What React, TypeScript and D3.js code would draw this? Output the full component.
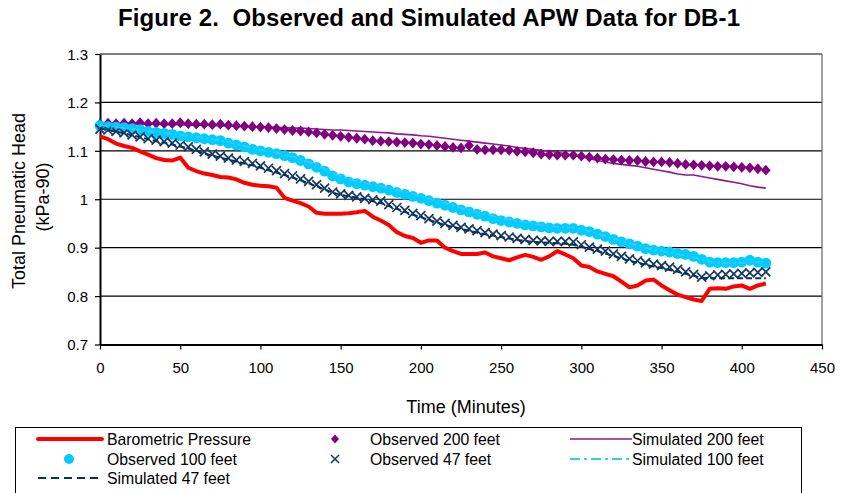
import React, { useEffect, useRef } from 'react';
import * as d3 from 'd3';

// sample times (minutes)
const minutes = [
  0, 5, 10, 15, 20, 25, 30, 35, 40, 45, 50, 55, 60, 65, 70, 75, 80, 85, 90, 95,
  100, 105, 110, 115, 120, 125, 130, 135, 140, 145, 150, 155, 160, 165, 170, 175, 180, 185, 190, 195,
  200, 205, 210, 215, 220, 225, 230, 235, 240, 245, 250, 255, 260, 265, 270, 275, 280, 285, 290, 295,
  300, 305, 310, 315, 320, 325, 330, 335, 340, 345, 350, 355, 360, 365, 370, 375, 380, 385, 390, 395,
  400, 405, 410, 415,
];

const barometric = [
  1.130, 1.124, 1.115, 1.110, 1.106, 1.099, 1.092, 1.085, 1.081, 1.080, 1.086, 1.065, 1.058, 1.053, 1.050, 1.046, 1.045, 1.041, 1.034, 1.030,
  1.028, 1.027, 1.024, 1.003, 0.997, 0.992, 0.985, 0.972, 0.970, 0.970, 0.970, 0.971, 0.973, 0.976, 0.964, 0.956, 0.947, 0.932, 0.924, 0.920,
  0.910, 0.915, 0.915, 0.900, 0.893, 0.887, 0.887, 0.887, 0.890, 0.882, 0.878, 0.874, 0.880, 0.885, 0.881, 0.875, 0.882, 0.893, 0.886, 0.878,
  0.863, 0.860, 0.851, 0.846, 0.841, 0.830, 0.818, 0.822, 0.832, 0.834, 0.822, 0.812, 0.803, 0.798, 0.793, 0.790, 0.815, 0.816, 0.815, 0.820,
  0.822, 0.815, 0.822, 0.826,
];

const observed200 = [
  1.155, 1.157, 1.156, 1.157, 1.156, 1.158, 1.156, 1.157, 1.156, 1.156, 1.158, 1.156, 1.155, 1.155, 1.154, 1.155, 1.153, 1.152, 1.151, 1.150,
  1.149, 1.148, 1.146, 1.144, 1.142, 1.141, 1.139, 1.137, 1.134, 1.132, 1.130, 1.128, 1.126, 1.124, 1.121, 1.120, 1.119, 1.118, 1.117, 1.116,
  1.114, 1.113, 1.111, 1.109, 1.107, 1.106, 1.111, 1.103, 1.102, 1.102, 1.102, 1.101, 1.099, 1.098, 1.096, 1.093, 1.092, 1.091, 1.091, 1.091,
  1.089, 1.087, 1.085, 1.083, 1.082, 1.081, 1.080, 1.080, 1.078, 1.077, 1.077, 1.076, 1.074, 1.072, 1.071, 1.070, 1.069, 1.068, 1.068, 1.067,
  1.066, 1.065, 1.063, 1.060,
];

const simulated200 = [
  1.157, 1.157, 1.156, 1.156, 1.156, 1.155, 1.155, 1.155, 1.154, 1.154, 1.154, 1.153, 1.153, 1.153, 1.152, 1.152, 1.151, 1.151, 1.150, 1.150,
  1.149, 1.149, 1.148, 1.148, 1.147, 1.147, 1.146, 1.145, 1.144, 1.143, 1.143, 1.142, 1.141, 1.140, 1.139, 1.138, 1.137, 1.135, 1.134, 1.133,
  1.131, 1.130, 1.128, 1.126, 1.124, 1.122, 1.120, 1.118, 1.116, 1.114, 1.112, 1.110, 1.107, 1.105, 1.103, 1.101, 1.099, 1.097, 1.094, 1.091,
  1.088, 1.084, 1.080, 1.077, 1.074, 1.072, 1.070, 1.068, 1.065, 1.062, 1.059, 1.056, 1.052, 1.050, 1.050, 1.047, 1.044, 1.041, 1.038, 1.035,
  1.032, 1.028, 1.025, 1.023,
];

const observed100 = [
  1.152, 1.150, 1.149, 1.148, 1.146, 1.144, 1.140, 1.138, 1.136, 1.134, 1.131, 1.129, 1.127, 1.125, 1.123, 1.121, 1.116, 1.112, 1.108, 1.103,
  1.100, 1.097, 1.094, 1.090, 1.086, 1.080, 1.073, 1.066, 1.058, 1.048, 1.042, 1.036, 1.032, 1.029, 1.026, 1.023, 1.019, 1.014, 1.010, 1.006,
  1.002, 0.997, 0.992, 0.988, 0.983, 0.978, 0.974, 0.969, 0.965, 0.960, 0.956, 0.953, 0.950, 0.947, 0.945, 0.943, 0.941, 0.940, 0.940, 0.940,
  0.936, 0.933, 0.928, 0.923, 0.917, 0.912, 0.908, 0.903, 0.898, 0.895, 0.893, 0.891, 0.888, 0.886, 0.882, 0.876, 0.870, 0.869, 0.869, 0.869,
  0.870, 0.874, 0.870, 0.868,
];

const observed47 = [
  1.145, 1.143, 1.140, 1.137, 1.133, 1.129, 1.125, 1.122, 1.119, 1.116, 1.112, 1.108, 1.103, 1.098, 1.093, 1.089, 1.085, 1.081, 1.078, 1.074,
  1.069, 1.064, 1.059, 1.053, 1.048, 1.042, 1.037, 1.030, 1.023, 1.015, 1.011, 1.008, 1.005, 1.002, 0.999, 0.996, 0.989, 0.983, 0.977, 0.971,
  0.966, 0.960, 0.955, 0.950, 0.946, 0.942, 0.939, 0.935, 0.931, 0.928, 0.925, 0.922, 0.919, 0.917, 0.915, 0.914, 0.913, 0.913, 0.913, 0.912,
  0.906, 0.901, 0.897, 0.893, 0.887, 0.882, 0.877, 0.873, 0.869, 0.866, 0.863, 0.860, 0.855, 0.850, 0.845, 0.839, 0.842, 0.844, 0.845, 0.846,
  0.847, 0.848, 0.849, 0.850,
];

const simulated100 = [
  1.153, 1.151, 1.149, 1.147, 1.145, 1.143, 1.141, 1.139, 1.137, 1.135, 1.133, 1.131, 1.129, 1.127, 1.124, 1.121, 1.118, 1.114, 1.110, 1.106,
  1.102, 1.099, 1.096, 1.092, 1.088, 1.083, 1.077, 1.070, 1.063, 1.055, 1.048, 1.042, 1.037, 1.033, 1.030, 1.027, 1.023, 1.019, 1.015, 1.011,
  1.006, 1.001, 0.996, 0.992, 0.987, 0.982, 0.978, 0.973, 0.969, 0.965, 0.961, 0.958, 0.955, 0.952, 0.949, 0.947, 0.945, 0.943, 0.942, 0.941,
  0.938, 0.934, 0.929, 0.924, 0.919, 0.914, 0.909, 0.904, 0.900, 0.896, 0.893, 0.890, 0.887, 0.884, 0.880, 0.875, 0.870, 0.869, 0.869, 0.869,
  0.869, 0.870, 0.870, 0.869,
];

const simulated47 = [
  1.146, 1.143, 1.140, 1.136, 1.132, 1.128, 1.124, 1.120, 1.117, 1.113, 1.109, 1.105, 1.100, 1.095, 1.090, 1.086, 1.082, 1.078, 1.074, 1.070,
  1.065, 1.060, 1.055, 1.050, 1.045, 1.039, 1.033, 1.027, 1.020, 1.014, 1.009, 1.006, 1.003, 1.000, 0.996, 0.992, 0.986, 0.980, 0.974, 0.968,
  0.963, 0.957, 0.952, 0.947, 0.943, 0.939, 0.935, 0.931, 0.928, 0.925, 0.922, 0.919, 0.916, 0.914, 0.912, 0.911, 0.910, 0.909, 0.908, 0.906,
  0.902, 0.897, 0.893, 0.888, 0.883, 0.878, 0.873, 0.869, 0.865, 0.861, 0.858, 0.854, 0.850, 0.846, 0.842, 0.838, 0.837, 0.837, 0.837, 0.837,
  0.837, 0.837, 0.837, 0.837,
];

const xTicks = [0, 50, 100, 150, 200, 250, 300, 350, 400, 450];
const yTicks = [0.7, 0.8, 0.9, 1.0, 1.1, 1.2, 1.3];

const FONT = 'Arial, "Liberation Sans", sans-serif';

export default function App() {
  const ref = useRef<SVGSVGElement>(null);

  useEffect(() => {
    if (!ref.current) return;
    const svg = d3.select(ref.current);
    svg.selectAll('*').remove();

    const x = d3.scaleLinear().domain([0, 450]).range([100, 822]);
    const y = d3.scaleLinear().domain([0.7, 1.3]).range([344.5, 54]);

    // Title
    svg
      .append('text')
      .attr('x', 118)
      .attr('y', 26)
      .attr('font-family', FONT)
      .attr('font-weight', 'bold')
      .attr('font-size', 24)
      .attr('textLength', 622)
      .attr('lengthAdjust', 'spacing')
      .style('white-space', 'pre')
      .text('Figure 2.  Observed and Simulated APW Data for DB-1');

    // Gridlines
    svg
      .append('g')
      .selectAll('line')
      .data(yTicks.slice(1))
      .enter()
      .append('line')
      .attr('x1', x(0))
      .attr('x2', x(450))
      .attr('y1', (d) => y(d))
      .attr('y2', (d) => y(d))
      .attr('stroke', '#000')
      .attr('stroke-width', 1.2);

    // right border
    svg
      .append('line')
      .attr('x1', x(450))
      .attr('x2', x(450))
      .attr('y1', y(1.3))
      .attr('y2', y(0.7))
      .attr('stroke', '#666')
      .attr('stroke-width', 1.2);

    // Axes
    const yAxis = svg
      .append('g')
      .attr('transform', `translate(${x(0)},0)`)
      .call(d3.axisLeft(y).tickValues(yTicks).tickSize(5).tickSizeOuter(0).tickFormat((d) => d3.format('')(+(+d).toFixed(1))));
    yAxis.select('.domain').attr('stroke', '#000').attr('stroke-width', 2);
    yAxis.selectAll('.tick line').attr('stroke', '#000').attr('stroke-width', 1.2);
    yAxis
      .selectAll('.tick text')
      .attr('x', -12)
      .attr('dy', '0.35em')
      .attr('font-family', FONT)
      .attr('font-size', 15)
      .attr('fill', '#000');

    const xAxis = svg
      .append('g')
      .attr('transform', `translate(0,${y(0.7)})`)
      .call(d3.axisBottom(x).tickValues(xTicks).tickSize(5).tickSizeOuter(0));
    xAxis.select('.domain').attr('stroke', '#000').attr('stroke-width', 2);
    xAxis.selectAll('.tick line').attr('stroke', '#000').attr('stroke-width', 1.2);
    xAxis
      .selectAll('.tick text')
      .attr('y', 18)
      .attr('dy', '0.71em')
      .attr('font-family', FONT)
      .attr('font-size', 15)
      .attr('fill', '#000');

    // Axis titles
    svg
      .append('text')
      .attr('x', 466)
      .attr('y', 413)
      .attr('text-anchor', 'middle')
      .attr('font-family', FONT)
      .attr('font-size', 18)
      .text('Time (Minutes)');

    svg
      .append('text')
      .attr('transform', 'translate(25,201) rotate(-90)')
      .attr('text-anchor', 'middle')
      .attr('font-family', FONT)
      .attr('font-size', 18)
      .text('Total Pneumatic Head');
    svg
      .append('text')
      .attr('transform', 'translate(49,197) rotate(-90)')
      .attr('text-anchor', 'middle')
      .attr('font-family', FONT)
      .attr('font-size', 18)
      .text('(kPa-90)');

    const line = d3
      .line<number>()
      .x((_, i) => x(minutes[i]))
      .y((d) => y(d));

    const plot = svg.append('g');

    // Barometric pressure
    plot
      .append('path')
      .attr('d', line(barometric))
      .attr('fill', 'none')
      .attr('stroke', '#ff0000')
      .attr('stroke-width', 4)
      .attr('stroke-linejoin', 'round');

    // Simulated 200 feet
    plot
      .append('path')
      .attr('d', line(simulated200))
      .attr('fill', 'none')
      .attr('stroke', '#8a1a8a')
      .attr('stroke-width', 1.6);

    // Observed 200 feet
    const diamond = 'M0,-5.4L4.8,0L0,5.4L-4.8,0Z';
    const diamondSmall = 'M0,-4.6L4,0L0,4.6L-4,0Z';
    plot
      .append('g')
      .selectAll('path')
      .data(observed200)
      .enter()
      .append('path')
      .attr('d', diamond)
      .attr('transform', (d, i) => `translate(${x(minutes[i])},${y(d)})`)
      .attr('fill', '#800080');

    // Observed 100 feet
    plot
      .append('g')
      .selectAll('circle')
      .data(observed100)
      .enter()
      .append('circle')
      .attr('cx', (_, i) => x(minutes[i]))
      .attr('cy', (d) => y(d))
      .attr('r', 5.4)
      .attr('fill', '#00ccff');

    // Observed 47 feet
    const xMark = 'M-4.5,-4.5L4.5,4.5M-4.5,4.5L4.5,-4.5';
    const xMarkSmall = 'M-4,-4L4,4M-4,4L4,-4';
    plot
      .append('g')
      .selectAll('path')
      .data(observed47)
      .enter()
      .append('path')
      .attr('d', xMark)
      .attr('transform', (d, i) => `translate(${x(minutes[i])},${y(d)})`)
      .attr('fill', 'none')
      .attr('stroke', '#17375e')
      .attr('stroke-width', 1.7);

    // Simulated 100 feet
    plot
      .append('path')
      .attr('d', line(simulated100))
      .attr('fill', 'none')
      .attr('stroke', '#33ccff')
      .attr('stroke-width', 2)
      .attr('stroke-dasharray', '8,3,2,3');

    // Simulated 47 feet
    plot
      .append('path')
      .attr('d', line(simulated47))
      .attr('fill', 'none')
      .attr('stroke', '#003366')
      .attr('stroke-width', 2)
      .attr('stroke-dasharray', '6,3');

    // Legend
    const legend = svg.append('g');
    legend
      .append('rect')
      .attr('x', 15.5)
      .attr('y', 427.5)
      .attr('width', 786)
      .attr('height', 90)
      .attr('fill', '#fff')
      .attr('stroke', '#000')
      .attr('stroke-width', 1);

    const items = [
      { label: 'Barometric Pressure', kind: 'line', color: '#ff0000', width: 4, dash: '', col: 0, row: 0 },
      { label: 'Observed 200 feet', kind: 'diamond', color: '#800080', width: 0, dash: '', col: 1, row: 0 },
      { label: 'Simulated 200 feet', kind: 'line', color: '#8a1a8a', width: 1.6, dash: '', col: 2, row: 0 },
      { label: 'Observed 100 feet', kind: 'circle', color: '#00ccff', width: 0, dash: '', col: 0, row: 1 },
      { label: 'Observed 47 feet', kind: 'x', color: '#17375e', width: 1.5, dash: '', col: 1, row: 1 },
      { label: 'Simulated 100 feet', kind: 'line', color: '#33ccff', width: 2, dash: '10,4,3,4', col: 2, row: 1 },
      { label: 'Simulated 47 feet', kind: 'line', color: '#003366', width: 2, dash: '8,5', col: 0, row: 2 },
    ];
    const colX = [38, 304, 570];
    const rowY = [439, 459, 478];
    items.forEach((it) => {
      const g = legend.append('g').attr('transform', `translate(${colX[it.col]},${rowY[it.row]})`);
      const mid = 31;
      if (it.kind === 'line') {
        g.append('line')
          .attr('x1', 0)
          .attr('x2', it.col === 2 ? 62 : 64)
          .attr('y1', 0)
          .attr('y2', 0)
          .attr('stroke', it.color)
          .attr('stroke-width', it.width)
          .attr('stroke-dasharray', it.dash || null)
          .attr('stroke-linecap', it.width > 3 ? 'round' : 'butt');
      } else if (it.kind === 'diamond') {
        g.append('path').attr('d', diamondSmall).attr('transform', `translate(${mid},0)`).attr('fill', it.color);
      } else if (it.kind === 'circle') {
        g.append('circle').attr('cx', mid).attr('cy', 0).attr('r', 5).attr('fill', it.color);
      } else {
        g.append('path')
          .attr('d', xMarkSmall)
          .attr('transform', `translate(${mid},0)`)
          .attr('fill', 'none')
          .attr('stroke', it.color)
          .attr('stroke-width', it.width);
      }
      g.append('text')
        .attr('x', it.col === 2 ? 62 : it.col === 1 ? 66 : 69)
        .attr('y', 0)
        .attr('dy', '0.35em')
        .attr('font-family', FONT)
        .attr('font-size', 15.8)
        .text(it.label);
    });
  }, []);

  return (
    <svg
      ref={ref}
      width={851}
      height={493}
      style={{ position: 'absolute', left: 0, top: 0, background: '#fff' }}
    />
  );
}
